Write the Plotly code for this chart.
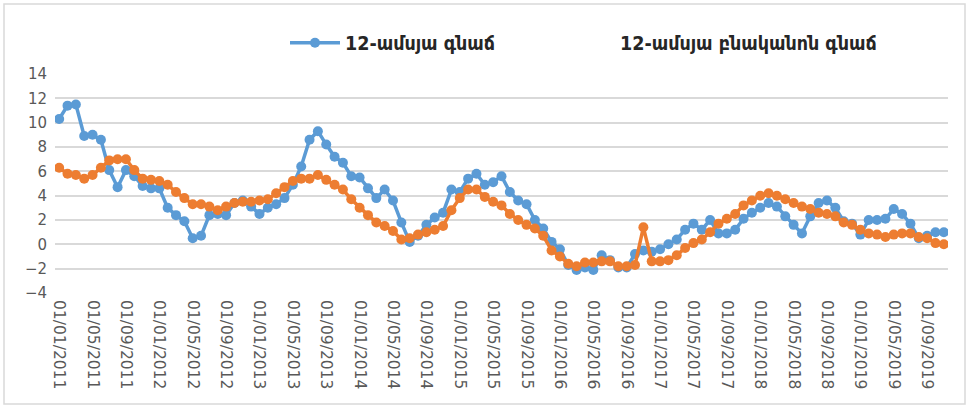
import plotly.graph_objects as go

# monthly dates Jan 2011 - Nov 2019
months = [f"01/{m:02d}/{y}" for y in range(2011, 2020) for m in range(1, 13)][:107]

cpi_12m = [10.3, 11.4, 11.5, 8.9, 9.0, 8.6, 6.1, 4.7, 6.1, 5.6, 4.8, 4.6,
           4.6, 3.0, 2.4, 1.9, 0.5, 0.7, 2.4, 2.5, 2.4, 3.4, 3.6, 3.1,
           2.5, 3.0, 3.3, 3.8, 4.9, 6.4, 8.6, 9.3, 8.2, 7.2, 6.7, 5.6,
           5.5, 4.6, 3.8, 4.5, 3.6, 1.8, 0.2, 0.7, 1.6, 2.2, 2.6, 4.5,
           4.3, 5.4, 5.8, 4.9, 5.1, 5.6, 4.3, 3.6, 3.3, 2.0, 1.3, 0.2,
           -0.4, -1.7, -2.1, -1.9, -2.1, -0.9, -1.3, -1.9, -1.9, -0.8, -0.5, -0.6,
           -0.4, 0.0, 0.4, 1.2, 1.7, 1.2, 2.0, 0.9, 0.9, 1.2, 2.1, 2.6,
           3.0, 3.4, 3.1, 2.3, 1.6, 0.9, 2.3, 3.4, 3.6, 3.0, 1.9, 1.7,
           0.8, 2.0, 2.0, 2.1, 2.9, 2.5, 1.7, 0.5, 0.7, 1.0, 1.0]

core_12m = [6.3, 5.8, 5.7, 5.4, 5.7, 6.3, 6.9, 7.0, 7.0, 6.1, 5.4, 5.3,
            5.2, 4.9, 4.3, 3.8, 3.3, 3.3, 3.1, 2.8, 3.1, 3.4, 3.5, 3.5,
            3.6, 3.7, 4.2, 4.7, 5.2, 5.4, 5.4, 5.7, 5.3, 4.9, 4.5, 3.7,
            3.0, 2.4, 1.8, 1.5, 1.1, 0.4, 0.5, 0.8, 1.0, 1.2, 1.5, 2.8,
            3.8, 4.5, 4.5, 3.9, 3.5, 3.2, 2.5, 2.0, 1.6, 1.3, 0.7, -0.5,
            -1.0, -1.6, -1.8, -1.5, -1.5, -1.4, -1.4, -1.8, -1.8, -1.7, 1.4, -1.4,
            -1.4, -1.3, -0.9, -0.3, 0.1, 0.4, 1.0, 1.7, 2.1, 2.5, 3.2, 3.6,
            4.0, 4.2, 4.0, 3.7, 3.4, 3.1, 2.9, 2.6, 2.5, 2.3, 1.8, 1.6,
            1.2, 0.9, 0.8, 0.6, 0.8, 0.9, 0.9, 0.6, 0.5, 0.1, 0.0]

tick_labels = months[::4]
name_cpi = "12-ամսյա գնաճ"
name_core = "12-ամսյա բնականոն գնաճ"

BLUE = "#5B9BD5"
ORANGE = "#ED7D31"

fig = go.Figure()
fig.add_trace(go.Scatter(x=months, y=cpi_12m, name=name_cpi, mode="lines+markers",
                         line=dict(color=BLUE, width=3.5),
                         marker=dict(color=BLUE, size=10, symbol="circle"),
                         legend="legend"))
fig.add_trace(go.Scatter(x=months, y=core_12m, name=name_core, mode="lines+markers",
                         line=dict(color=ORANGE, width=3.5),
                         marker=dict(color=ORANGE, size=10, symbol="circle"),
                         showlegend=False))
# legend entry for the core series (text only, as in the reference)
fig.add_trace(go.Scatter(x=[None], y=[None], name=name_core, mode="lines",
                         line=dict(color="rgba(0,0,0,0)", width=3), legend="legend2"))

legend_font = dict(family="DejaVu Sans Condensed", size=19.5, color="#262626", weight="bold")
fig.update_layout(
    width=969, height=406,
    margin=dict(l=55, r=21, t=74, b=113, autoexpand=False),
    paper_bgcolor="white", plot_bgcolor="white",
    font=dict(family="DejaVu Sans", size=15, color="#595959"),
    showlegend=True,
    legend=dict(orientation="h", x=285 / 969, xref="container", xanchor="left",
                y=1 - 43 / 406, yref="container", yanchor="middle",
                font=legend_font, bgcolor="rgba(0,0,0,0)", itemwidth=50),
    legend2=dict(orientation="h", x=560 / 969, xref="container", xanchor="left",
                 y=1 - 43 / 406, yref="container", yanchor="middle",
                 font=legend_font, bgcolor="rgba(0,0,0,0)", itemwidth=50),
)
fig.update_xaxes(type="category", categoryorder="array", categoryarray=months,
                 range=[-0.5, len(months) - 0.5], automargin=False,
                 tickmode="array", tickvals=tick_labels, ticktext=tick_labels,
                 tickangle=90, showgrid=False, zeroline=False, showline=False,
                 ticks="", ticklabelstandoff=6, tickfont=dict(size=15.5, color="#595959"))
fig.update_yaxes(range=[-4, 14], dtick=2, showgrid=True, gridcolor="#D9D9D9", gridwidth=1.5,
                 zeroline=False, showline=False, ticks="", automargin=False,
                 ticklabelstandoff=7, tickfont=dict(size=15, color="#595959"))
fig.add_shape(type="rect", xref="paper", yref="paper",
              x0=(4 - 55) / 893, x1=(965 - 55) / 893,
              y0=(293 - 404) / 219, y1=(293 - 4) / 219,
              line=dict(color="#D9D9D9", width=1.5), fillcolor="rgba(0,0,0,0)", layer="below")

fig.write_html("out.html", config={"displayModeBar": False},
               post_script="document.body.style.margin='0';document.body.style.overflow='hidden';")
